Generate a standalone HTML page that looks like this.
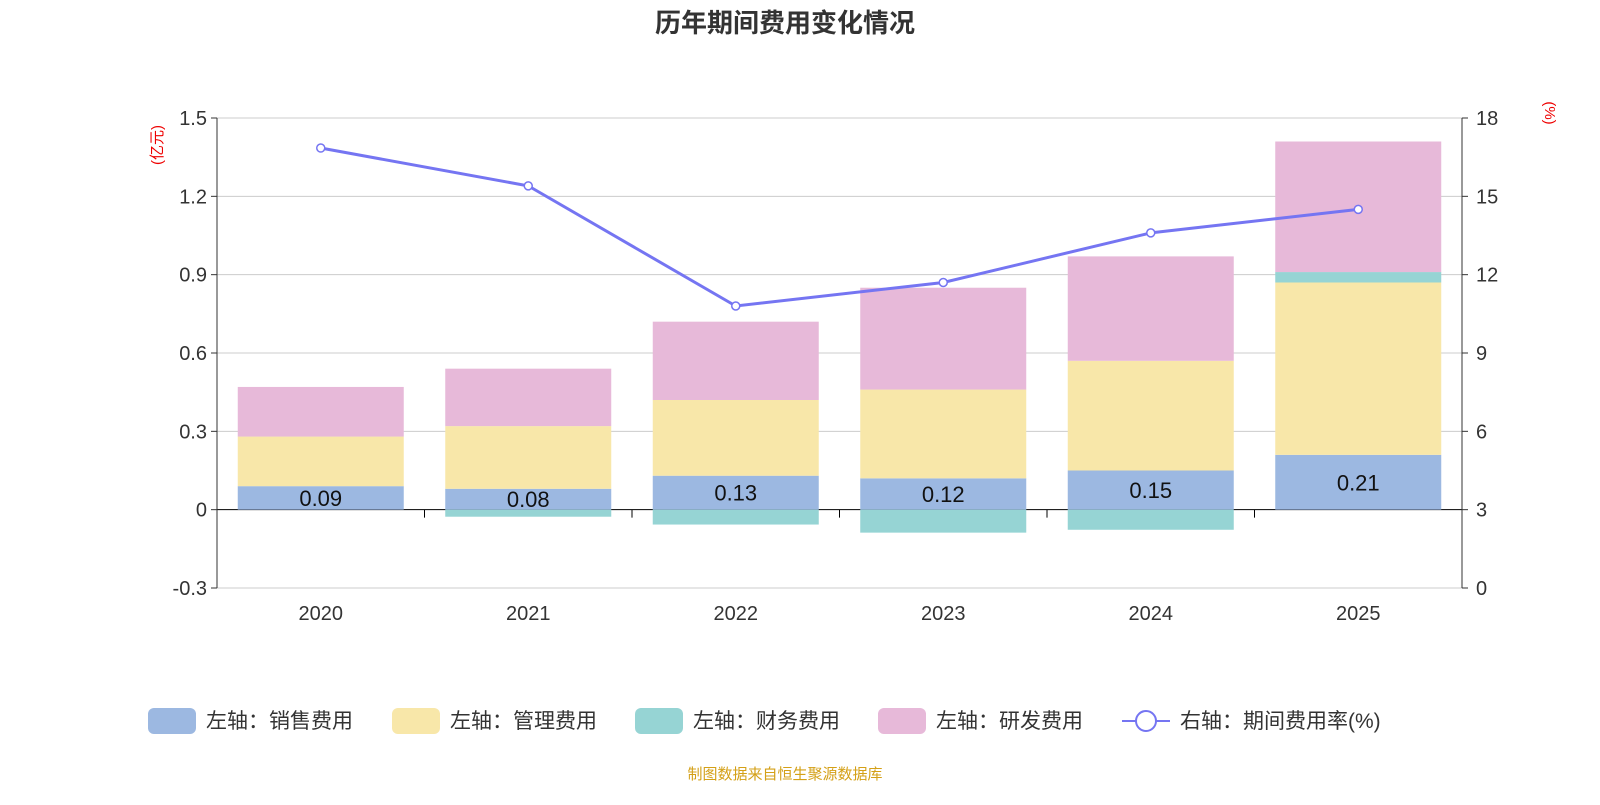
<!DOCTYPE html>
<html><head><meta charset="utf-8"><style>
body{margin:0;background:#fff;}
svg text{font-family:"Liberation Sans","Noto Sans CJK SC",sans-serif;}
</style></head><body>
<svg id="chart" width="1600" height="800" xmlns="http://www.w3.org/2000/svg">
<text x="785" y="32" text-anchor="middle" font-size="26" font-weight="bold" fill="#333">历年期间费用变化情况</text>
<g id="grid"></g><g id="bars"></g><g id="axes"></g><g id="line"></g><g id="legend"></g>
<text x="785" y="779" text-anchor="middle" font-size="15" fill="#d4a017">制图数据来自恒生聚源数据库</text>
</svg>
<script>
const years=["2020","2021","2022","2023","2024","2025"];
const sales=[0.09,0.08,0.13,0.12,0.15,0.21];
const mgmt=[0.19,0.24,0.29,0.34,0.42,0.66];
const fin=[0.0,-0.027,-0.057,-0.088,-0.077,0.04];
const rd=[0.19,0.22,0.30,0.39,0.40,0.50];
const rate=[16.85,15.4,10.8,11.7,13.6,14.5];
const leftTicks=[-0.3,0,0.3,0.6,0.9,1.2,1.5];
const rightTicks=[0,3,6,9,12,15,18];
const NS="http://www.w3.org/2000/svg";
const X0=217,X1=1462,T=118,B=588;
const yL=v=>B-(v+0.3)/1.8*(B-T);
const yR=v=>B-v/18*(B-T);
const step=(X1-X0)/years.length;
const xC=i=>X0+step*(i+0.5);
const bw=166;
function mk(tag,attrs,parent,text){const e=document.createElementNS(NS,tag);for(const k in attrs)e.setAttribute(k,attrs[k]);if(text!==undefined)e.textContent=text;document.getElementById(parent).appendChild(e);return e;}
leftTicks.forEach(t=>{
 const g=mk('line',{x1:X0,x2:X1,y1:yL(t),y2:yL(t),stroke:t===0?'#000':'#ccc','stroke-width':1},'grid');
 
 
 const l=mk('text',{x:X0-10,y:yL(t)+7,'text-anchor':'end','font-size':20,fill:'#333'},'axes',String(t));
 
 
 mk('line',{x1:X0-6,x2:X0,y1:yL(t),y2:yL(t),stroke:'#333'},'axes');
});
rightTicks.forEach(t=>{
 const l=mk('text',{x:X1+14,y:yR(t)+7,'font-size':20,fill:'#333'},'axes',String(t));
 
 
 mk('line',{x1:X1,x2:X1+6,y1:yR(t),y2:yR(t),stroke:'#333'},'axes');
});
mk('line',{x1:X0,x2:X0,y1:T,y2:B,stroke:'#333'},'axes');
mk('line',{x1:X1,x2:X1,y1:T,y2:B,stroke:'#333'},'axes');
for(let i=1;i<years.length;i++)mk('line',{x1:X0+step*i,x2:X0+step*i,y1:yL(0),y2:yL(0)+8,stroke:'#000'},'axes');
const ul=mk('text',{x:162,y:145,'font-size':15,fill:'#e00','text-anchor':'middle',transform:'rotate(-90 162 145)'},'axes','(亿元)');

const ur=mk('text',{x:1545,y:113,'font-size':15,fill:'#e00','text-anchor':'middle',transform:'rotate(90 1545 113)'},'axes','(%)');

years.forEach((y,i)=>{
 const x=xC(i)-bw/2;
 let pos=0,neg=0;
 const seg=(v,c,name)=>{
  let a,b;
  if(v>=0){a=pos;b=pos+v;pos=b;}else{a=neg;b=neg+v;neg=b;}
  const r=mk('rect',{x:x,width:bw,y:Math.min(yL(a),yL(b)),height:Math.abs(yL(a)-yL(b)),fill:c},'bars');
  
  
 };
 seg(sales[i],'#9cb8e1','sales');
 seg(mgmt[i],'#f8e7a9','mgmt');
 seg(fin[i],'#96d4d4','finance');
 seg(rd[i],'#e7b9d9','rd');
 const t=mk('text',{x:xC(i),y:(yL(0)+yL(sales[i]))/2+8,'text-anchor':'middle','font-size':22,fill:'#111'},'bars',sales[i].toFixed(2));
 
 
 const xl=mk('text',{x:xC(i),y:620,'text-anchor':'middle','font-size':20,fill:'#333'},'axes',y);
 
 
});
const pl=mk('polyline',{points:rate.map((v,i)=>xC(i)+','+yR(v)).join(' '),fill:'none',stroke:'#7575f2','stroke-width':3},'line');

rate.forEach((v,i)=>{const c=mk('circle',{cx:xC(i),cy:yR(v),r:4,fill:'#fff',stroke:'#7575f2','stroke-width':1.5},'line');
 });
const leg=[['左轴：销售费用','#9cb8e1',148],['左轴：管理费用','#f8e7a9',392],['左轴：财务费用','#96d4d4',635],['左轴：研发费用','#e7b9d9',878]];
leg.forEach(([t,c,x])=>{
 const r=mk('rect',{x:x,y:708,width:48,height:26,rx:6,fill:c},'legend');
 
 const tx=mk('text',{x:x+58,y:728,'font-size':21,fill:'#333'},'legend',t);
 
});
mk('line',{x1:1122,x2:1170,y1:721,y2:721,stroke:'#7575f2','stroke-width':2},'legend');
mk('circle',{cx:1146,cy:721,r:10,fill:'#fff',stroke:'#7575f2','stroke-width':2},'legend');
const lt=mk('text',{x:1180,y:728,'font-size':21,fill:'#333'},'legend','右轴：期间费用率(%)');

</script>
</body></html>
